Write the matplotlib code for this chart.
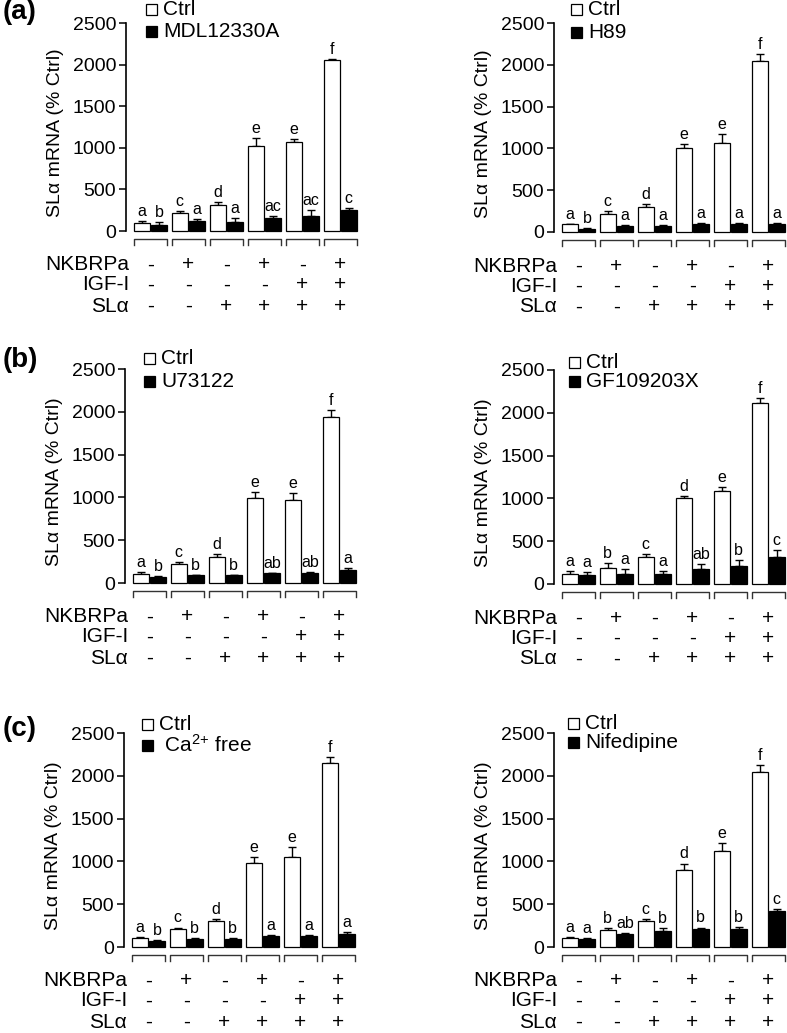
import matplotlib.pyplot as plt
import matplotlib.transforms as mtransforms
from matplotlib.patches import Rectangle
import numpy as np

plt.rcParams['font.family'] = ['Liberation Sans', 'DejaVu Sans']
plt.rcParams['mathtext.fontset'] = 'custom'
plt.rcParams['mathtext.rm'] = 'Liberation Sans'
plt.rcParams['mathtext.it'] = 'Liberation Sans:italic'
plt.rcParams['mathtext.bf'] = 'Liberation Sans:bold'

# treatment table under every panel
row_names = ['NKBRPa', 'IGF-I', 'SLα']
nkbrpa = ['-', '+', '-', '+', '-', '+']
igf = ['-', '-', '-', '-', '+', '+']
sla = ['-', '-', '+', '+', '+', '+']

# (a) left: MDL12330A
mdl_ctrl = [95, 212, 308, 1025, 1070, 2050]
mdl_ctrl_err = [28, 28, 45, 95, 30, 18]
mdl_ctrl_sig = ['a', 'c', 'd', 'e', 'e', 'f']
mdl = [75, 125, 112, 152, 185, 252]
mdl_err = [30, 20, 40, 28, 70, 25]
mdl_sig = ['b', 'a', 'a', 'ac', 'ac', 'c']

# (a) right: H89
h89_ctrl = [92, 212, 305, 1000, 1070, 2050]
h89_ctrl_err = [8, 40, 28, 50, 100, 75]
h89_ctrl_sig = ['a', 'c', 'd', 'e', 'e', 'f']
h89 = [40, 76, 76, 96, 96, 92]
h89_err = [8, 8, 8, 12, 12, 20]
h89_sig = ['b', 'a', 'a', 'a', 'a', 'a']

# (b) left: U73122
u73_ctrl = [105, 220, 305, 988, 968, 1937]
u73_ctrl_err = [23, 28, 28, 70, 85, 85]
u73_ctrl_sig = ['a', 'c', 'd', 'e', 'e', 'f']
u73 = [66, 89, 89, 113, 113, 156]
u73_err = [20, 8, 8, 8, 20, 15]
u73_sig = ['b', 'b', 'b', 'ab', 'ab', 'a']

# (b) right: GF109203X
gf_ctrl = [115, 190, 310, 1000, 1090, 2120]
gf_ctrl_err = [40, 50, 45, 30, 40, 50]
gf_ctrl_sig = ['a', 'b', 'c', 'd', 'e', 'f']
gf = [110, 120, 120, 170, 210, 320]
gf_err = [30, 50, 30, 65, 65, 75]
gf_sig = ['a', 'a', 'a', 'ab', 'b', 'c']

# (c) left: Ca2+ free
ca_ctrl = [105, 215, 305, 984, 1050, 2150]
ca_ctrl_err = [8, 12, 22, 70, 113, 66]
ca_ctrl_sig = ['a', 'c', 'd', 'e', 'e', 'f']
ca = [66, 89, 89, 128, 128, 152]
ca_err = [20, 12, 12, 16, 16, 27]
ca_sig = ['b', 'b', 'b', 'a', 'a', 'a']

# (c) right: Nifedipine
nif_ctrl = [105, 195, 305, 905, 1127, 2040]
nif_ctrl_err = [12, 22, 22, 70, 86, 85]
nif_ctrl_sig = ['a', 'b', 'c', 'd', 'e', 'f']
nif = [90, 150, 190, 215, 215, 415]
nif_err = [19, 12, 30, 12, 20, 25]
nif_sig = ['a', 'ab', 'b', 'b', 'b', 'c']

W, H = 787, 1033
fig = plt.figure(figsize=(W / 100, H / 100), dpi=100)
# pixel coordinates measured from the top-left corner of the image
pix = mtransforms.Affine2D().scale(1 / W, -1 / H).translate(0, 1) + fig.transFigure

FS = 14
FS_TAB = 15
OFF, BW = 0.225, 0.42


def draw_panel(axis_x, y0, ytop, ctrl, ctrl_err, ctrl_sig, inh, inh_err, inh_sig,
               inh_name, leg_x, leg_y):
    ax = fig.add_axes([axis_x / W, 1 - y0 / H, 231 / W, (y0 - ytop) / H])
    x = np.arange(len(ctrl))
    zeros = np.zeros(len(ctrl))
    ax.errorbar(x - OFF, ctrl, yerr=[zeros, ctrl_err], fmt='none', ecolor='black',
                elinewidth=1, capsize=3, capthick=1, zorder=1)
    ax.errorbar(x + OFF, inh, yerr=[zeros, inh_err], fmt='none', ecolor='black',
                elinewidth=1, capsize=3, capthick=1, zorder=1)
    ax.bar(x - OFF, ctrl, BW, color='white', edgecolor='black', linewidth=0.9,
           clip_on=False, zorder=2)
    ax.bar(x + OFF, inh, BW, color='black', edgecolor='black', linewidth=0.9,
           clip_on=False, zorder=2)

    for xi, v, e, s in zip(x - OFF, ctrl, ctrl_err, ctrl_sig):
        ax.annotate(s, (xi, v + e), xytext=(0, 1.5), textcoords='offset points',
                    ha='center', va='bottom', fontsize=11.5, annotation_clip=False)
    for xi, v, e, s in zip(x + OFF, inh, inh_err, inh_sig):
        ax.annotate(s, (xi, v + e), xytext=(0, 1.5), textcoords='offset points',
                    ha='center', va='bottom', fontsize=11.5, annotation_clip=False)

    ax.set_xlim(-0.64, 5.44)
    ax.set_ylim(0, 2500)
    ax.set_yticks(range(0, 2501, 500))
    ax.set_xticks([])
    for side in ['top', 'right', 'bottom']:
        ax.spines[side].set_visible(False)
    ax.spines['left'].set_linewidth(1.2)
    ax.tick_params(axis='y', direction='out', length=5, width=1.1, pad=2, labelsize=FS)
    ax.patch.set_visible(False)

    fig.text(axis_x - 70, (y0 + ytop) / 2 + 6, 'SLα mRNA (% Ctrl)', transform=pix,
             rotation=90, ha='center', va='center', fontsize=FS)

    # group brackets and treatment table
    bt = mtransforms.blended_transform_factory(ax.transData, pix)
    for i in x:
        l, r = i - OFF - BW / 2, i + OFF + BW / 2
        fig.add_artist(plt.Line2D([l, l, r, r], [y0 + 14, y0 + 8, y0 + 8, y0 + 14],
                                  transform=bt, color='#333333', lw=1))
    for name, row, dy in zip(row_names, [nkbrpa, igf, sla], [34, 54, 75]):
        fig.text(axis_x + 3, y0 + dy, name, transform=pix, ha='right', va='center',
                 fontsize=FS_TAB)
        for i, s in zip(x, row):
            fig.text(i, y0 + dy, s, transform=bt, ha='center', va='center',
                     fontsize=FS_TAB)

    # legend
    for (yy, fc, txt) in [(leg_y[0], 'white', 'Ctrl'), (leg_y[1], 'black', inh_name)]:
        fig.add_artist(Rectangle((axis_x + leg_x, yy - 5.5), 11, 11, transform=pix,
                                 facecolor=fc, edgecolor='black', lw=0.9))
        fig.text(axis_x + leg_x + 17, yy, txt, transform=pix, ha='left', va='center',
                 fontsize=FS_TAB)
    return ax


draw_panel(126, 231, 23, mdl_ctrl, mdl_ctrl_err, mdl_ctrl_sig, mdl, mdl_err, mdl_sig,
           'MDL12330A', 20, (9.5, 31.5))
draw_panel(554, 232, 23, h89_ctrl, h89_ctrl_err, h89_ctrl_sig, h89, h89_err, h89_sig,
           'H89', 17, (9.5, 32))
draw_panel(125, 583, 369, u73_ctrl, u73_ctrl_err, u73_ctrl_sig, u73, u73_err, u73_sig,
           'U73122', 19, (358.5, 381.5))
draw_panel(554, 584, 370, gf_ctrl, gf_ctrl_err, gf_ctrl_sig, gf, gf_err, gf_sig,
           'GF109203X', 15, (362.5, 381.5))
draw_panel(124, 947, 733, ca_ctrl, ca_ctrl_err, ca_ctrl_sig, ca, ca_err, ca_sig,
           r' Ca$^{2{+}}$ free', 18, (724, 745))
draw_panel(554, 947, 733, nif_ctrl, nif_ctrl_err, nif_ctrl_sig, nif, nif_err, nif_sig,
           'Nifedipine', 14, (723.5, 742))

for lab, yy in [('(a)', 12), ('(b)', 360), ('(c)', 729)]:
    fig.text(3, yy, lab, transform=pix, ha='left', va='center', fontsize=20,
             fontweight='bold')

fig.savefig('out.png', dpi=100)
